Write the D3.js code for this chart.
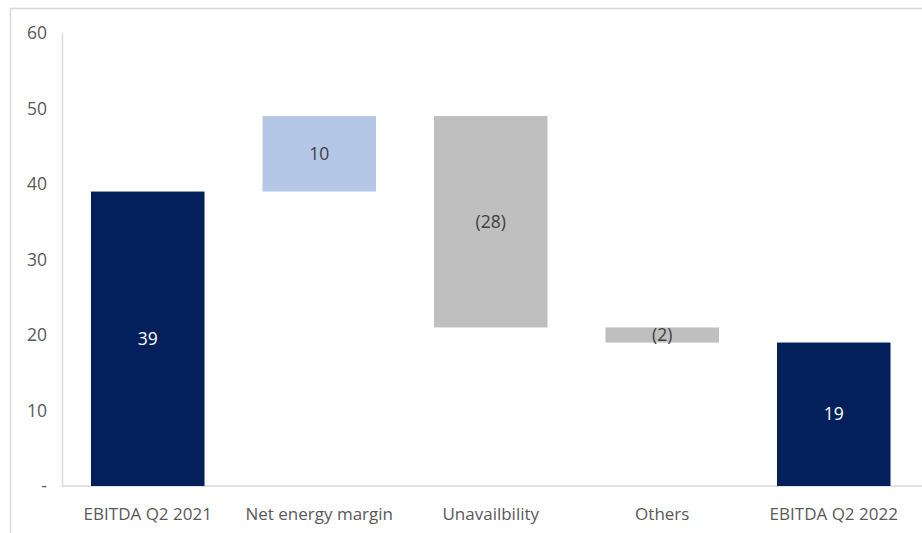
<!DOCTYPE html>
<html>
<head>
<meta charset="utf-8">
<script src="https://cdn.jsdelivr.net/npm/d3@7"></script>
<style>
  html, body { margin: 0; padding: 0; background: #fff; }
  svg { display: block; }
  text { font-family: "Open Sans", Lato, sans-serif; }
</style>
</head>
<body>
<svg id="chart" width="922" height="533"></svg>
<script>
// EBITDA bridge Q2 2021 -> Q2 2022
const categories = ["EBITDA Q2 2021", "Net energy margin", "Unavailbility", "Others", "EBITDA Q2 2022"];
const values = [39, 10, -28, -2, 19];
const kinds = ["total", "delta", "delta", "delta", "total"];
const yTicks = [0, 10, 20, 30, 40, 50, 60];

const svg = d3.select("#chart");
const W = 922, H = 533;
const margin = { left: 62, right: 2.5, top: 33, bottom: 47 };

// frame
svg.append("path")
  .attr("d", `M10.5,${H}V8.5H${W}`)
  .attr("fill", "none").attr("stroke", "#d9d9d9").attr("stroke-width", 1.5);

const x = d3.scaleBand().domain(categories)
  .range([margin.left, W - margin.right]).paddingInner(0.338).paddingOuter(0.169);
const y = d3.scaleLinear().domain([0, 60]).range([H - margin.bottom, margin.top]);

// running totals for the floating steps
let run = 0;
const bars = categories.map((c, i) => {
  let lo, hi;
  if (kinds[i] === "total") { lo = 0; hi = values[i]; run = values[i]; }
  else { const s = run; run += values[i]; lo = Math.min(s, run); hi = Math.max(s, run); }
  return { c, v: values[i], kind: kinds[i], lo, hi };
});

const fill = d => d.kind === "total" ? "#03205c" : (d.v >= 0 ? "#b4c7e7" : "#bfbfbf");
const fmt = v => v < 0 ? `(${Math.abs(v)})` : `${v}`;

// y axis
const yAxis = d3.axisLeft(y).tickValues(yTicks).tickSize(0).tickPadding(15)
  .tickFormat(d => d === 0 ? "-" : d);
const gy = svg.append("g").attr("transform", `translate(${margin.left},0)`).call(yAxis);
gy.select(".domain").attr("stroke", "#d9d9d9").attr("stroke-width", 1.5);
gy.selectAll("text").attr("fill", "#595959").attr("font-size", 17.5);

// x axis
const xAxis = d3.axisBottom(x).tickSize(0).tickPadding(22);
const gx = svg.append("g").attr("transform", `translate(0,${y(0)})`).call(xAxis);
gx.select(".domain").attr("stroke", "#d9d9d9").attr("stroke-width", 1.5)
  .attr("d", `M${margin.left},0H${W}`);
gx.selectAll("text").attr("fill", "#595959").attr("font-size", 17);

// bars
svg.append("g").selectAll("rect").data(bars).join("rect")
  .attr("x", d => x(d.c))
  .attr("width", x.bandwidth())
  .attr("y", d => y(d.hi))
  .attr("height", d => y(d.lo) - y(d.hi))
  .attr("fill", fill);

// value labels
svg.append("g").selectAll("text").data(bars).join("text")
  .attr("x", d => x(d.c) + x.bandwidth() / 2)
  .attr("y", d => (y(d.lo) + y(d.hi)) / 2)
  .attr("dy", "0.35em")
  .attr("text-anchor", "middle")
  .attr("font-size", 17.5)
  .attr("fill", d => d.kind === "total" ? "#ffffff" : "#404040")
  .text(d => fmt(d.v));
</script>
</body>
</html>
